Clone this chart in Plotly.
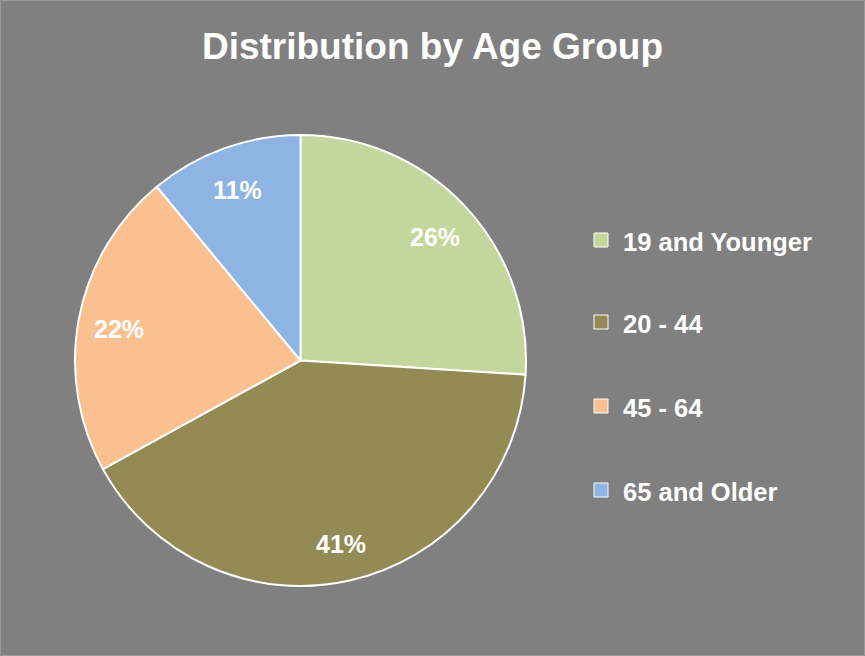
import numpy as np
import plotly.graph_objects as go

labels = ["19 and Younger", "20 - 44", "45 - 64", "65 and Older"]
values = [26, 41, 22, 11]
colors = ["#C3D69B", "#948A54", "#FAC090", "#8EB4E3"]
title_text = "Distribution by Age Group"

W, H = 865, 656
FONT = "Liberation Sans, Arial, sans-serif"

# pie geometry (pixels)
cx, cy, R = 300.5, 360.5, 225.5

fig = go.Figure()
fig.add_trace(go.Pie(
    labels=labels,
    values=values,
    sort=False,
    direction="clockwise",
    rotation=0,
    marker=dict(colors=colors, line=dict(color="white", width=2)),
    textinfo="none",
    showlegend=False,
    hoverinfo="label+percent",
    domain=dict(x=[(cx - R) / W, (cx + R) / W], y=[1 - (cy + R) / H, 1 - (cy - R) / H]),
))

# percentage labels placed toward the outer part of each slice
vals = np.array(values, dtype=float)
fracs = vals / vals.sum()
mids = (np.cumsum(fracs) - fracs / 2) * 2 * np.pi
rl = 0.82 * R
for f, a in zip(fracs, mids):
    px = cx + rl * np.sin(a)
    py = cy - rl * np.cos(a) + 3
    fig.add_annotation(x=px / W, y=1 - py / H, xref="paper", yref="paper",
                       text=f"{f:.0%}", showarrow=False, xanchor="center", yanchor="middle",
                       font=dict(family=FONT, size=25, color="white", weight="bold"))

# Legend drawn as shapes + text annotations
leg_x0 = 594
leg_ys = [240, 322, 406, 490]
for lab, col, y in zip(labels, colors, leg_ys):
    fig.add_shape(type="rect", xref="paper", yref="paper",
                  x0=leg_x0 / W, x1=(leg_x0 + 14) / W,
                  y0=1 - (y + 7) / H, y1=1 - (y - 7) / H,
                  fillcolor=col, line=dict(color="white", width=1))
    fig.add_annotation(x=(leg_x0 + 27) / W, y=1 - (y + 2) / H, xref="paper", yref="paper",
                       text=lab, showarrow=False, xanchor="left", yanchor="middle",
                       font=dict(family=FONT, size=25.5, color="white", weight="bold"))

# thin frame around the chart area
fig.add_shape(type="rect", xref="paper", yref="paper", x0=0.0006, x1=0.9994, y0=0.0008, y1=0.9992,
              line=dict(color="#9A9A9A", width=1), fillcolor="rgba(0,0,0,0)")

fig.update_layout(
    width=W, height=H,
    margin=dict(l=0, r=0, t=0, b=0),
    paper_bgcolor="#808080",
    plot_bgcolor="#808080",
    title=dict(text=title_text, x=0.5, xanchor="center", y=1 - 46 / H, yanchor="middle",
               font=dict(family=FONT, size=37, color="white", weight="bold")),
)

fig.write_html("out.html", config={"displayModeBar": False},
               post_script="document.body.style.margin='0';document.body.style.overflow='hidden';")
